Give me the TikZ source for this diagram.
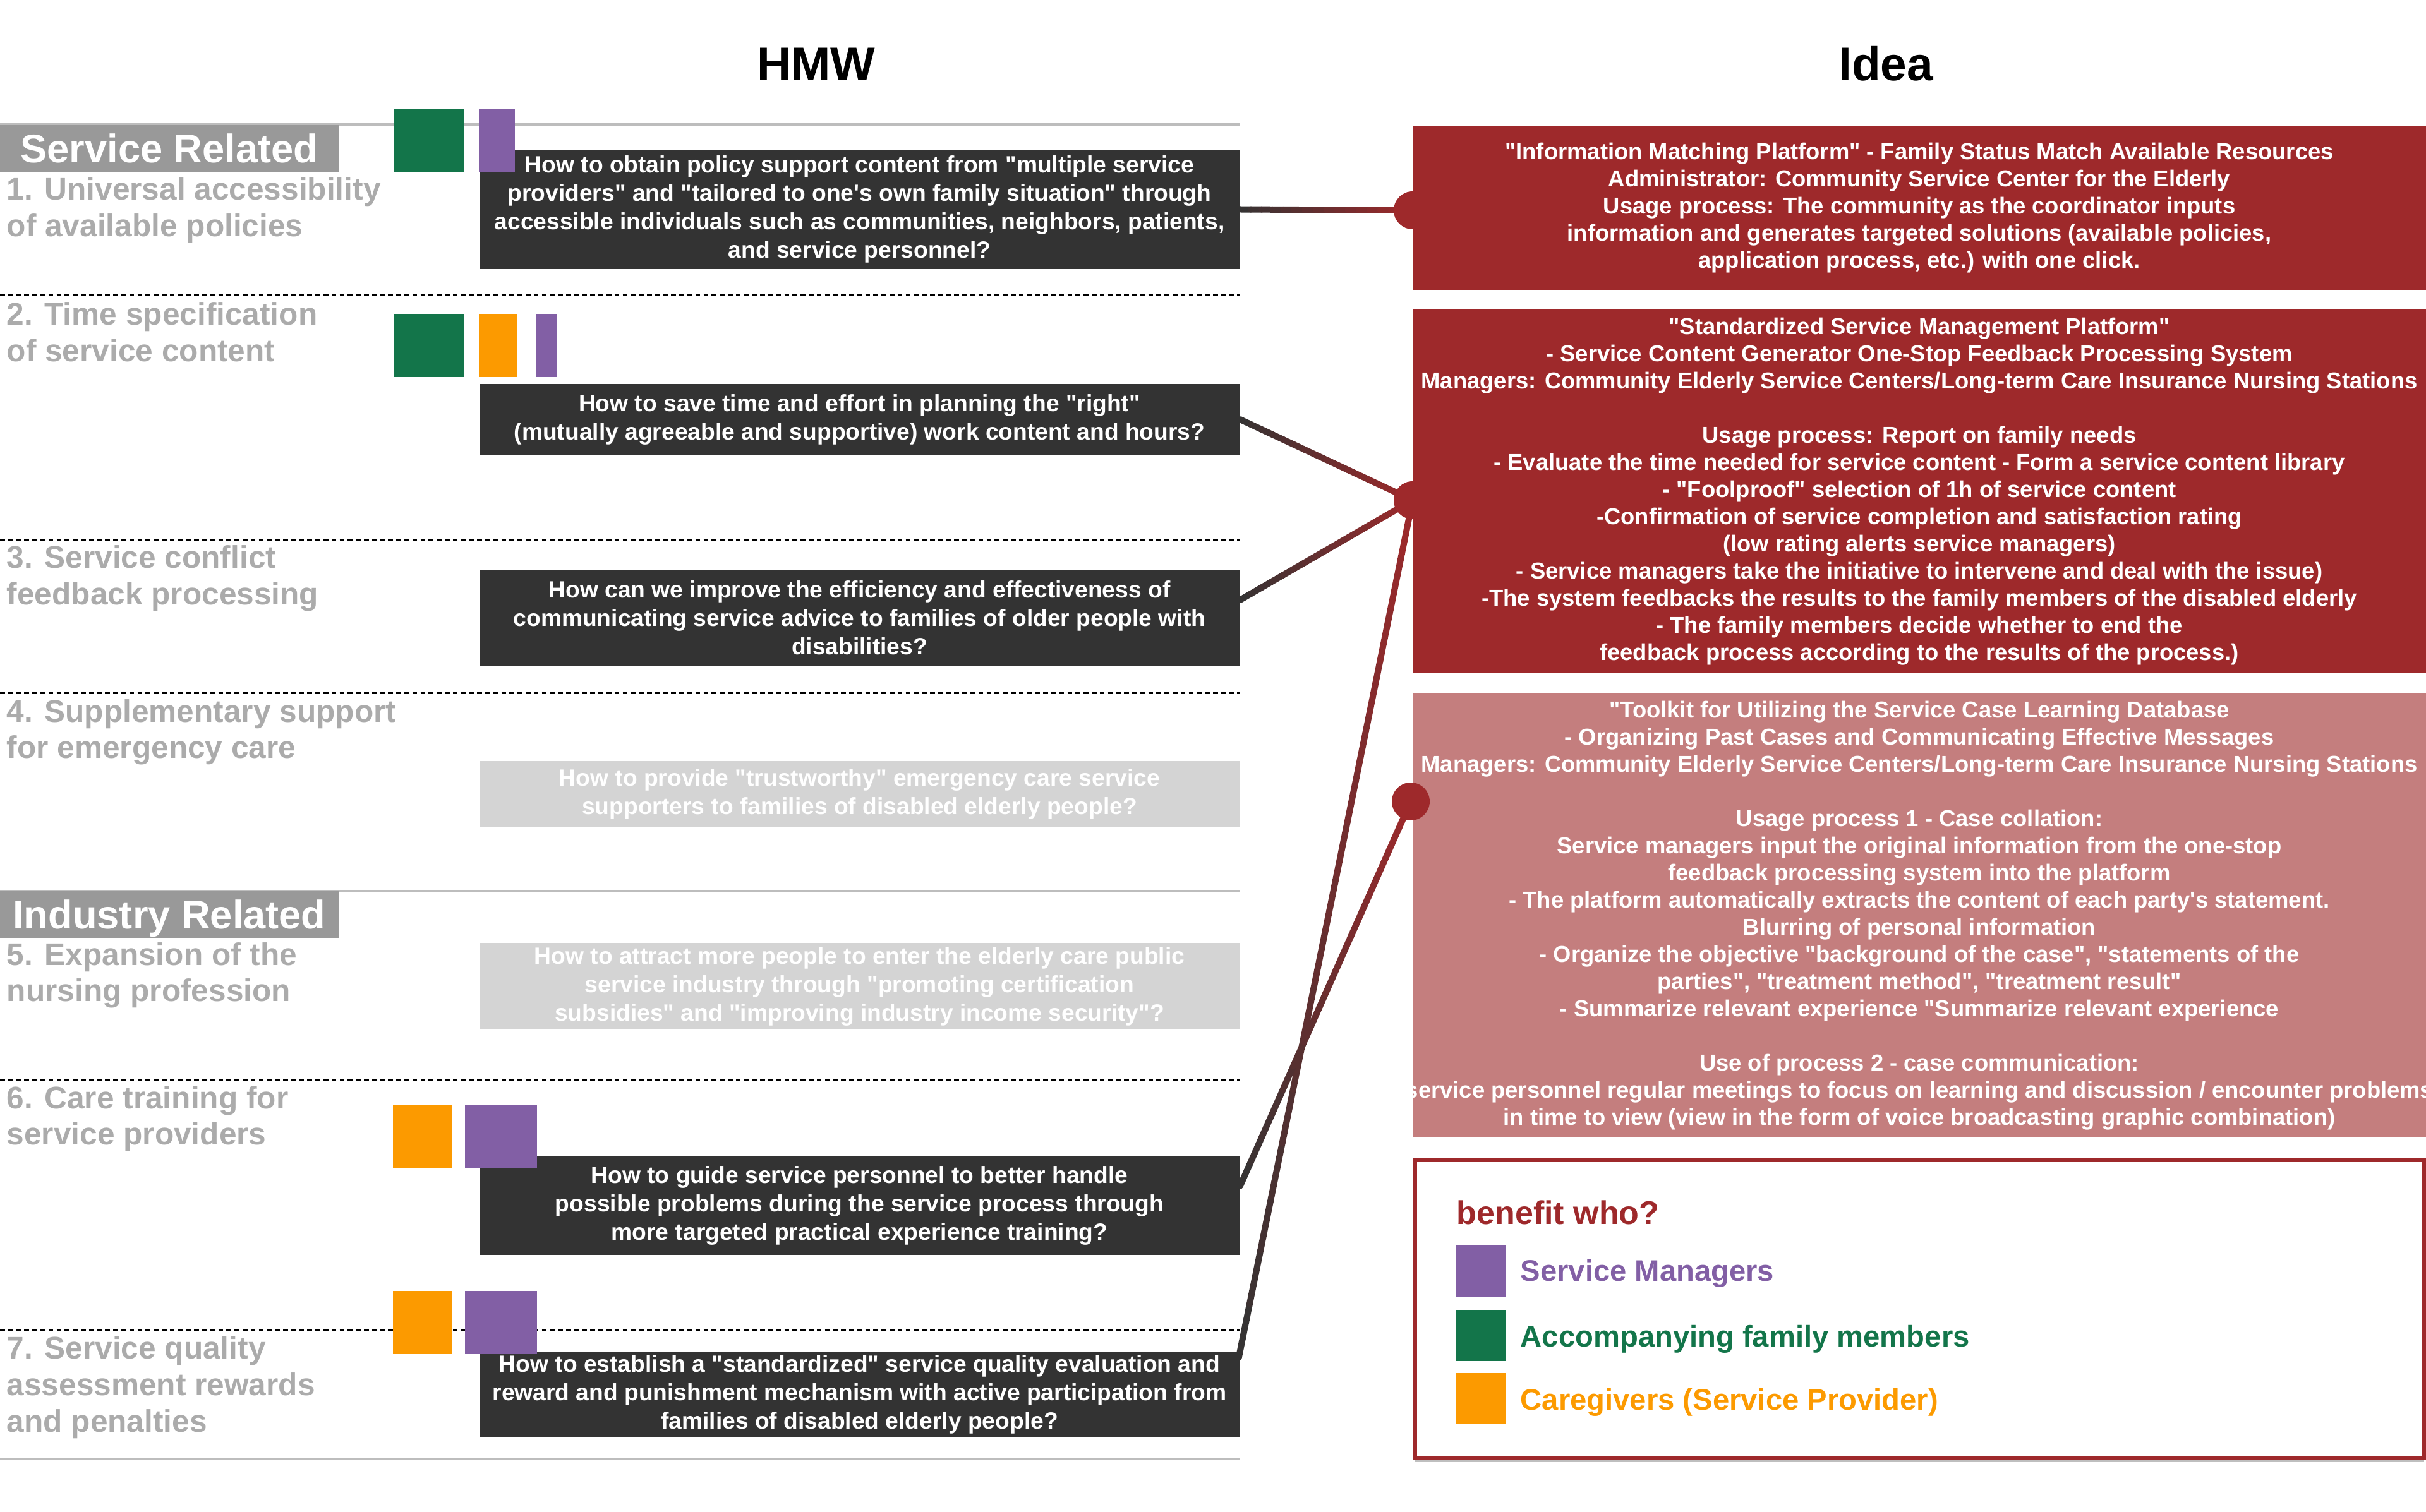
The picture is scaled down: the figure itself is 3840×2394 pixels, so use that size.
\documentclass[tikz,border=0pt]{standalone}
\usepackage{fontspec}
\newfontfamily\lsans{Liberation Sans}
\usetikzlibrary{calc,shadows}

\definecolor{hmwdark}{HTML}{333333}
\definecolor{idred}{HTML}{9E292B}
\definecolor{idpink}{HTML}{C47E7E}
\definecolor{pgreen}{HTML}{13754A}
\definecolor{ppurple}{HTML}{825FA5}
\definecolor{porange}{HTML}{FC9A00}
\definecolor{secgray}{HTML}{999999}
\definecolor{labgray}{HTML}{ABABAB}
\definecolor{lightbox}{HTML}{D4D4D4}
\definecolor{rulegray}{HTML}{BDBDBD}

\newcommand\fBox{\lsans\bfseries\fontsize{9.3}{11.25}\selectfont}
\newcommand\fIdea{\lsans\bfseries\fontsize{9.1}{10.75}\selectfont}
\newcommand\fLab{\lsans\bfseries\fontsize{12.4}{14.5}\selectfont}
\newcommand\fSec{\lsans\bfseries\fontsize{15.8}{18}\selectfont}
\newcommand\fTitle{\lsans\bfseries\fontsize{18.7}{22}\selectfont}
\newcommand\fLeg{\lsans\bfseries\fontsize{11.8}{14}\selectfont}
\newcommand\fBen{\lsans\bfseries\fontsize{13}{15}\selectfont}

\pgfdeclarelayer{links}
\pgfsetlayers{links,main}

% connector whose colour runs from the HMW box (dark) to the idea (red)
\newcommand\gradline[2]{%
  \foreach \k in {0,...,15}{%
    \pgfmathsetmacro\ka{\k/16}%
    \pgfmathsetmacro\kb{(\k+1)/16}%
    \pgfmathtruncatemacro\kc{(\k+0.5)*100/16}%
    \draw[linkline, draw=idred!\kc!hmwdark] ($(#1)!\ka!(#2)$) -- ($(#1)!\kb!(#2)$);
  }}

\begin{document}
\begin{tikzpicture}[x=0.25pt,y=-0.25pt,
  hmwbox/.style={fill=hmwdark, text=white, font=\fBox, align=center, inner sep=0pt, minimum width=300.75pt},
  greybox/.style={hmwbox, fill=lightbox},
  ideabox/.style={fill=idred, text=white, font=\fIdea, align=center, inner sep=0pt, minimum width=401pt},
  pinkbox/.style={ideabox, fill=idpink},
  seclabel/.style={fill=secgray, text=white, font=\fSec, inner sep=0pt, minimum width=134pt, text height=11.3pt, text depth=0pt},
  itemlabel/.style={text=labgray, font=\fLab, inner sep=0pt, anchor=base west},
  solidrule/.style={draw=rulegray, line width=1.1pt},
  dashrule/.style={draw=black, line width=0.75pt, dash pattern=on 1.9pt off 1.3pt},
  linkline/.style={line width=2.5pt, line cap=round},
  dotnode/.style={circle, fill=idred, minimum size=15pt, inner sep=0pt},
  legtext/.style={font=\fLeg, inner sep=0pt, anchor=base west},
]
\useasboundingbox (0,0) rectangle (3840,2394);

% column titles
\node[font=\fTitle, anchor=base, inner sep=0pt] (thmw) at (1292,128) {HMW};
\node[font=\fTitle, anchor=base, inner sep=0pt] (tidea) at (2985,128) {Idea};

% row separators
\draw[solidrule] (0,197) -- (1962,197);
\draw[dashrule] (0,468) -- (1962,468);
\draw[dashrule] (0,856) -- (1962,856);
\draw[dashrule] (0,1097) -- (1962,1097);
\draw[solidrule] (0,1411) -- (1962,1411);
\draw[dashrule] (0,1709) -- (1962,1709);
\draw[dashrule] (0,2106) -- (1962,2106);
\draw[solidrule] (0,2310) -- (1962,2310);

% group headers
\node[seclabel, minimum height=18.5pt] (secsrv) at (268,235) {Service Related};
\node[seclabel, minimum height=18.75pt] (secind) at (268,1447.5) {Industry Related};

% item labels
\foreach \yy/\txt [count=\i] in {
  317/{1. Universal accessibility}, 375/{of available policies},
  515/{2. Time specification}, 573/{of service content},
  900/{3. Service conflict}, 958/{feedback processing},
  1143/{4. Supplementary support}, 1200/{for emergency care},
  1528/{5. Expansion of the}, 1585/{nursing profession},
  1755/{6. Care training for}, 1812/{service providers},
  2151/{7. Service quality}, 2209/{assessment rewards}, 2267/{and penalties}}
  \node[itemlabel] (lab\i) at (10,\yy) {\txt};

% HMW questions
\node[hmwbox, minimum height=47.25pt] (h1) at (1360.5,331.5) {How to obtain policy support content from "multiple service\\providers" and "tailored to one's own family situation" through\\accessible individuals such as communities, neighbors, patients,\\and service personnel?};
\node[hmwbox, minimum height=28pt] (h2) at (1360.5,664) {How to save time and effort in planning the "right"\\(mutually agreeable and supportive) work content and hours?};
\node[hmwbox, minimum height=38pt] (h3) at (1360.5,978) {How can we improve the efficiency and effectiveness of\\communicating service advice to families of older people with\\disabilities?};
\node[greybox, minimum height=26.25pt] (h4) at (1360.5,1257.5) {How to provide "trustworthy" emergency care service\\supporters to families of disabled elderly people?};
\node[greybox, minimum height=34.25pt] (h5) at (1360.5,1561.5) {How to attract more people to enter the elderly care public\\service industry through "promoting certification\\subsidies" and "improving industry income security"?};
\node[hmwbox, minimum height=39pt] (h6) at (1360.5,1909) {How to guide service personnel to better handle\\possible problems during the service process through\\more targeted practical experience training?};
\node[hmwbox, minimum height=34pt] (h7) at (1360.5,2208) {How to establish a "standardized" service quality evaluation and\\reward and punishment mechanism with active participation from\\families of disabled elderly people?};

% beneficiary markers
\fill[pgreen]  (623,172) rectangle (735,272);
\fill[ppurple] (758,172) rectangle (815,272);
\fill[pgreen]  (623,497) rectangle (735,597);
\fill[porange] (758,497) rectangle (818,597);
\fill[ppurple] (849,497) rectangle (882,597);
\fill[porange] (622,1750) rectangle (716,1850);
\fill[ppurple] (736,1750) rectangle (850,1850);
\fill[porange] (622,2044) rectangle (716,2144);
\fill[ppurple] (736,2044) rectangle (850,2144);

% ideas
\node[ideabox, minimum height=64.75pt] (iA) at (3038,329.5) {"Information Matching Platform" - Family Status Match Available Resources\\Administrator: Community Service Center for the Elderly\\Usage process: The community as the coordinator inputs\\information and generates targeted solutions (available policies,\\application process, etc.) with one click.};
\node[ideabox, minimum height=144pt] (iB) at (3038,778) {"Standardized Service Management Platform"\\- Service Content Generator One-Stop Feedback Processing System\\Managers: Community Elderly Service Centers/Long-term Care Insurance Nursing Stations\\\mbox{}\\Usage process: Report on family needs\\- Evaluate the time needed for service content - Form a service content library\\- "Foolproof" selection of 1h of service content\\-Confirmation of service completion and satisfaction rating\\(low rating alerts service managers)\\- Service managers take the initiative to intervene and deal with the issue)\\-The system feedbacks the results to the family members of the disabled elderly\\- The family members decide whether to end the\\feedback process according to the results of the process.)};
\node[pinkbox, minimum height=175.75pt] (iC) at (3038,1449.5) {"Toolkit for Utilizing the Service Case Learning Database\\- Organizing Past Cases and Communicating Effective Messages\\Managers: Community Elderly Service Centers/Long-term Care Insurance Nursing Stations\\\mbox{}\\Usage process 1 - Case collation:\\Service managers input the original information from the one-stop\\feedback processing system into the platform\\- The platform automatically extracts the content of each party's statement.\\Blurring of personal information\\- Organize the objective "background of the case", "statements of the\\parties", "treatment method", "treatment result"\\- Summarize relevant experience "Summarize relevant experience\\\mbox{}\\Use of process 2 - case communication:\\\makebox[0pt]{service personnel regular meetings to focus on learning and discussion / encounter problems}\\in time to view (view in the form of voice broadcasting graphic combination)};

% connection dots
\node[dotnode] (d1) at (2236,333) {};
\node[dotnode] (d2) at (2236,792) {};
\node[dotnode] (d3) at (2233,1269) {};

% connector start points on the question boxes
\coordinate (p3) at ([yshift=7pt]h3.east);
\coordinate (p6) at ([yshift=7.75pt]h6.east);
\coordinate (p7) at ([yshift=-2.5pt,xshift=-0.5pt]h7.north east);

\begin{pgfonlayer}{links}
  \gradline{h1.east}{d1.center}
  \gradline{h2.east}{d2.center}
  \gradline{p3}{d2.center}
  \gradline{p7}{d2.center}
  \gradline{p6}{d3.center}
\end{pgfonlayer}

% legend
\node[draw=idred, line width=1.75pt, fill=white, minimum width=399.25pt, minimum height=118pt, inner sep=0pt,
      drop shadow={shadow xshift=0pt, shadow yshift=-1.5pt, opacity=0.25, fill=black}] (benefit) at (3038,2072.5) {};
\node[font=\fBen, text=idred, inner sep=0pt, anchor=base west] (bentitle) at (2305,1938) {benefit who?};
\fill[ppurple] (2305,1972) rectangle (2384,2053);
\fill[pgreen]  (2305,2074) rectangle (2384,2155);
\fill[porange] (2305,2174) rectangle (2384,2255);
\node[legtext, text=ppurple] (legm) at (2406,2028) {Service Managers};
\node[legtext, text=pgreen]  (legf) at (2406,2132) {Accompanying family members};
\node[legtext, text=porange] (legc) at (2406,2232) {Caregivers (Service Provider)};

\end{tikzpicture}
\end{document}
